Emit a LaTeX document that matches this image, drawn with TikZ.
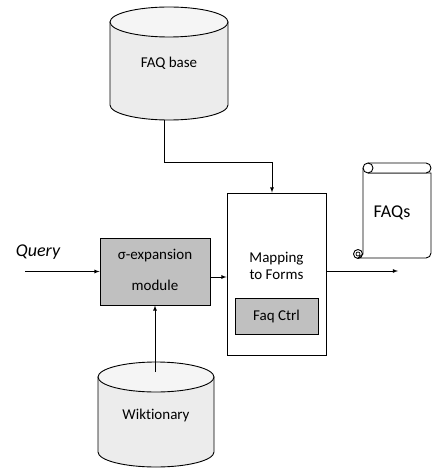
\documentclass[tikz,border=0pt]{standalone}
\usepackage{fontspec}
\setmainfont[RawFeature=-liga]{Carlito}
\usepackage{tikz}
\usetikzlibrary{calc,arrows}

\definecolor{boxgray}{RGB}{192,192,192}
\definecolor{dbgray}{RGB}{236,236,236}
\definecolor{dbtop}{RGB}{245,245,245}

\tikzset{
  lbl/.style={font=\fontsize{15}{17}\selectfont},
  biglbl/.style={font=\fontsize{18}{20}\selectfont},
  procbox/.style={draw,fill=boxgray,line width=0.9pt,inner sep=0pt},
  plainbox/.style={draw,fill=white,line width=0.9pt,inner sep=0pt},
  dbbody/.style={draw,fill=dbgray,line width=0.9pt},
  dbend/.style={draw,fill=dbtop,line width=0.9pt},
  flow/.style={-latex,line width=0.8pt}
}

% database: centre x, top ellipse y, bottom ellipse y, half width
\newcommand{\dbdraw}[4]{%
  \filldraw[dbbody] ({#1-#4},#2) -- ({#1-#4},#3)
    arc[start angle=180,end angle=0,x radius=#4,y radius=15] -- ({#1+#4},#2) -- cycle;
  \filldraw[dbend] (#1,#2) ellipse[x radius=#4,y radius=15];
}

\begin{document}
\begin{tikzpicture}[x=1pt,y=-1pt]
  \useasboundingbox (0,0) rectangle (432,473);

  % databases
  \dbdraw{169}{22}{105}{59}
  \node[lbl] (faqbase) at (169,63) {FAQ base};
  \coordinate (faqdb) at (164,120);

  \dbdraw{156}{377}{452}{58}
  \node[lbl] (wiki) at (156,415) {Wiktionary};
  \coordinate (wikitop) at (155,372);

  % boxes
  \node[procbox,minimum width=110pt,minimum height=67pt] (sigma) at (155,271.5) {};
  \node[lbl,align=center] (sigmatxt) at (155,270) {σ-expansion\\[14pt]module};
  \node[plainbox,minimum width=99pt,minimum height=162pt] (map) at (276.5,274) {};
  \node[lbl,align=center] (maptxt) at (276.5,266) {Mapping\\to Forms};
  \node[procbox,lbl,minimum width=83pt,minimum height=36pt] (ctrl) at (276.5,316) {Faq Ctrl};

  % query
  \node[biglbl,font=\fontsize{18}{20}\itshape] (query) at (38,252) {Query};
  \coordinate (qin) at (25,271.5);

  % scroll
  \draw[line width=0.9pt,fill=white] (363,168) -- (363,254) -- (358,258) -- (426,258)
    arc[start angle=90,end angle=0,radius=5] -- (431,173) -- (368,173);
  \draw[line width=0.9pt,fill=white] (368,163) -- (426,163)
    arc[start angle=-90,end angle=90,radius=5] -- (368,173);
  \draw[line width=0.9pt] (368,168) circle[radius=5];
  \draw[line width=0.9pt] (358,254) circle[radius=4.5];
  \draw[line width=0.7pt] (358,254) circle[radius=2];
  \node[biglbl] (faqs) at (392,213) {FAQs};
  \coordinate (faqout) at (398,271);

  % connectors
  \draw[flow] (faqdb) -- ++(0,42) -| ([xshift=-4.5pt]map.north);
  \draw[flow] (qin) -- (sigma.west);
  \draw[flow] (wikitop) -- (sigma.south);
  \draw[flow] ([yshift=-5.5pt]sigma.east) -- ([yshift=-5.5pt]sigma.east -| map.west);
  \draw[flow] ([yshift=3pt]map.east) -- (faqout);
\end{tikzpicture}
\end{document}
